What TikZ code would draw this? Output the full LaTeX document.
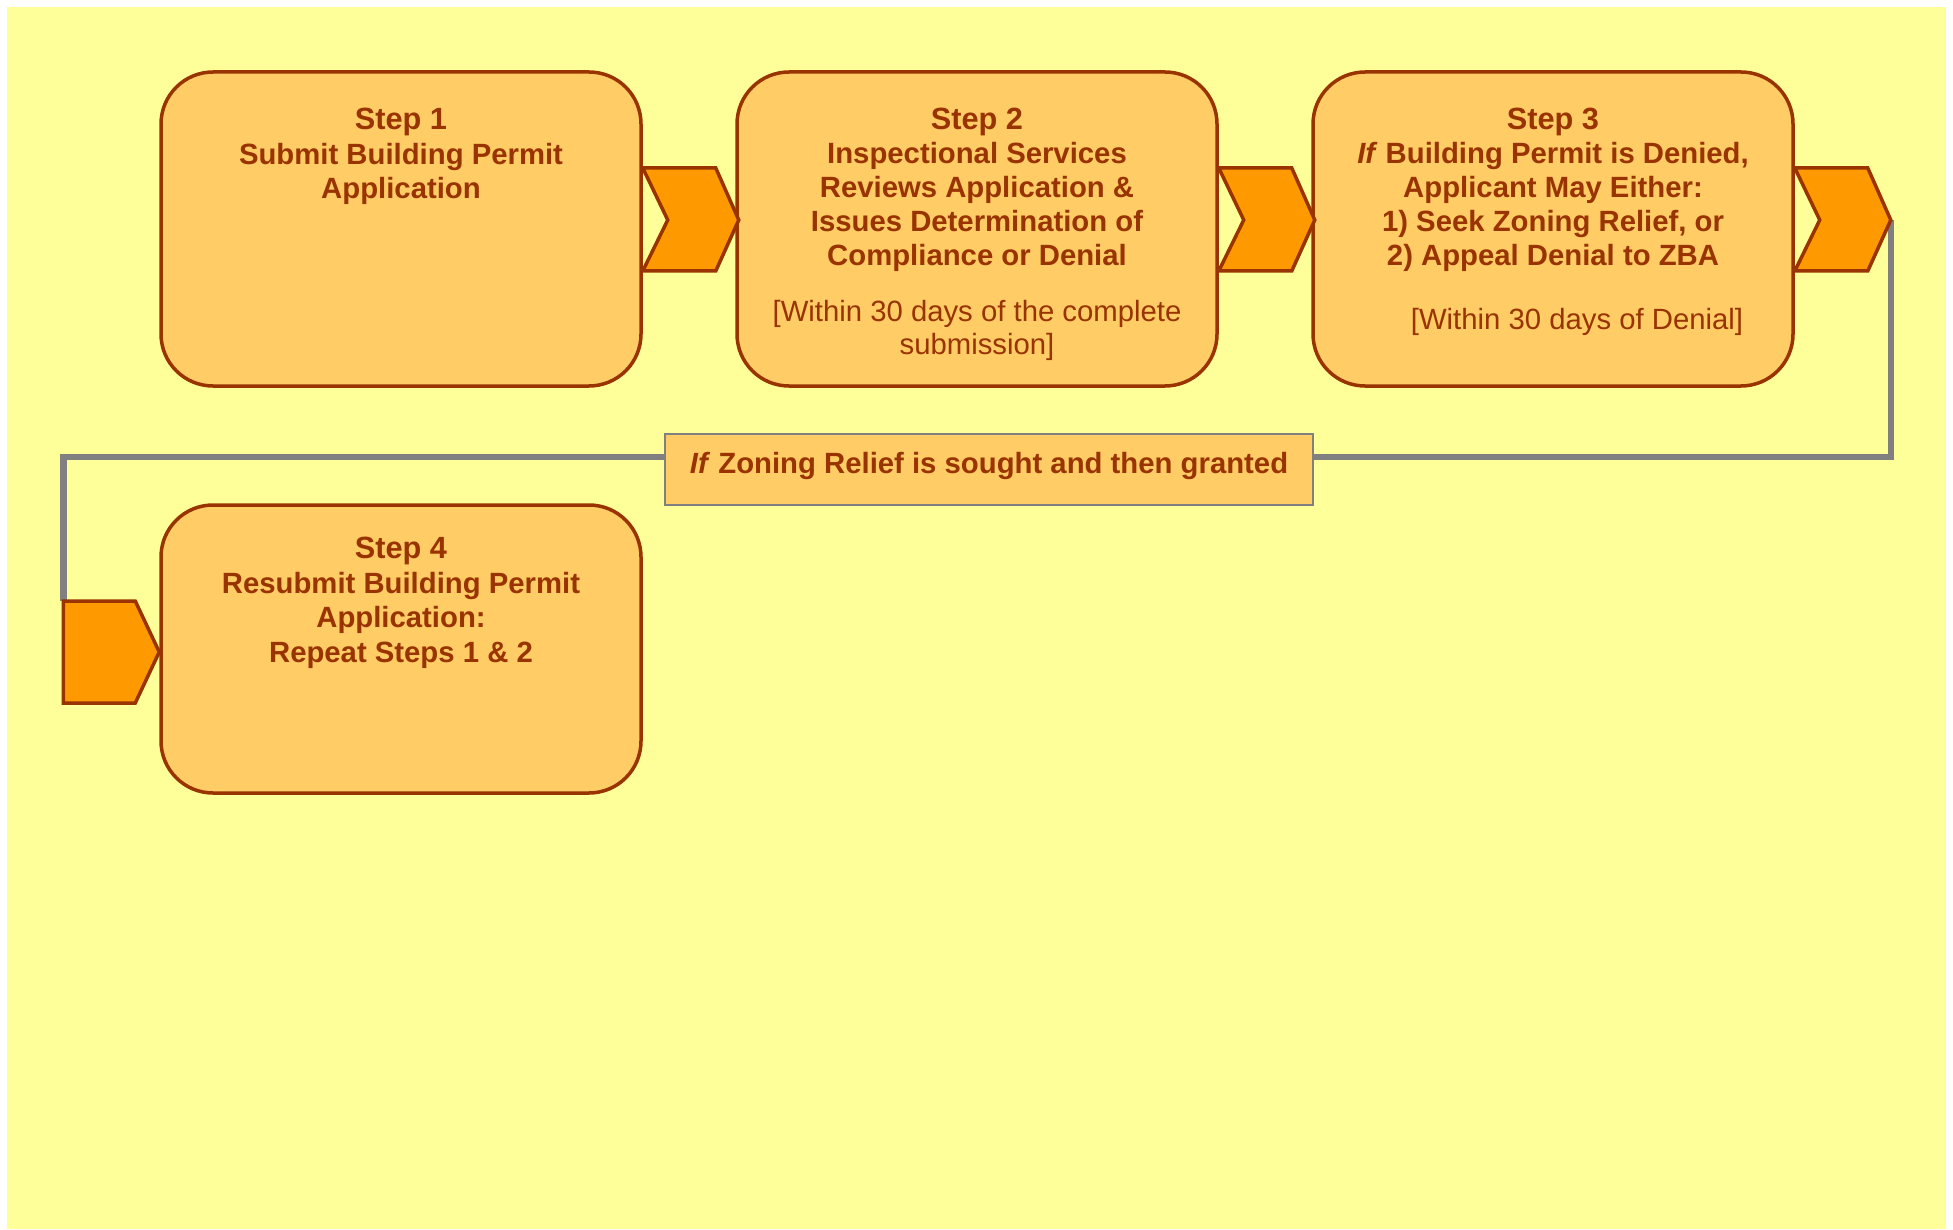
\documentclass[tikz,border=0pt]{standalone}
\usepackage{fontspec}
\setmainfont{Liberation Sans}
\usetikzlibrary{calc}
\definecolor{bgyellow}{HTML}{FFFF99}
\definecolor{boxfill}{HTML}{FFCC66}
\definecolor{rust}{HTML}{993300}
\definecolor{chevfill}{HTML}{FF9900}
\definecolor{linegray}{HTML}{808080}
\tikzset{
 stepbox/.style={draw=rust, fill=boxfill, line width=3.5pt, rounded corners=52pt, minimum width=480pt, inner sep=0pt},
 chevst/.style={draw=rust, fill=chevfill, line width=3.5pt, line join=miter},
 boldtxt/.style={text=rust, font=\fontsize{29.3}{34.9}\selectfont\bfseries, align=center, inner sep=0pt, anchor=north},
 boldtxttight/.style={text=rust, font=\fontsize{29.3}{34.0}\selectfont\bfseries, align=center, inner sep=0pt, anchor=north},
 regtxt/.style={text=rust, font=\fontsize{29.3}{33.5}\selectfont, align=center, inner sep=0pt, anchor=north},
 connector/.style={draw=linegray, line width=6.5pt, line join=miter},
 labelbox/.style={draw=linegray, fill=boxfill, line width=2pt, minimum width=648pt, minimum height=71pt, inner sep=0pt, text=rust, font=\fontsize{29.3}{34}\selectfont\bfseries, text height=21pt, text depth=13pt}
}
\newcommand\steplabel[1]{{\fontsize{30.7}{34}\selectfont Step #1}}
\newcommand\stepchevron[2]{%
 \draw[chevst] ($(#1.east)+(0,-61)$) -- ++(73,0) -- ++(23,52) coordinate (#2) -- ++(-23,51) -- ++(-73,0) -- ++(25,-51) -- cycle;}
\begin{document}
\begin{tikzpicture}[x=1pt,y=-1pt]
\useasboundingbox (0,0) rectangle (1953,1230);
\fill[bgyellow] (7,7) rectangle (1946,1229);
% boxes
\node[stepbox, minimum height=314pt] (b1) at (401,229) {};
\node[stepbox, minimum height=314pt] (b2) at (977,229) {};
\node[stepbox, minimum height=314pt] (b3) at (1553,229) {};
\node[stepbox, minimum height=288pt] (b4) at (401,649) {};
% connector
\coordinate (c3tip) at ($(b3.east)+(96,-9)$);
\coordinate (c4top) at ($(b4.west)+(-96,-48)$);
\coordinate (bendL) at (c4top |- 0,457);
\draw[connector] (c3tip) |- (bendL) -- (c4top);
% chevrons
\stepchevron{b1}{c1tip}
\stepchevron{b2}{c2tip}
\stepchevron{b3}{c3tipb}
\draw[chevst] (c4top) -- ++(72,0) -- ++(24,51) -- ++(-24,51) -- ++(-72,0) -- cycle;
% label
\node[labelbox] (lab) at (989,469) {\textit{If} Zoning Relief is sought and then granted};
% texts
\node[boldtxt] (t1) at (401,107.5) {\steplabel{1}\\Submit Building Permit\\Application};
\node[boldtxttight] (t2) at (977,108) {\steplabel{2}\\Inspectional Services\\Reviews Application \&\\Issues Determination of\\Compliance or Denial};
\node[regtxt] (t2b) at (977,300) {[Within 30 days of the complete\\submission]};
\node[boldtxttight] (t3) at (1553,108) {\steplabel{3}\\\textit{If} Building Permit is Denied,\\Applicant May Either:\\1) Seek Zoning Relief, or\\2) Appeal Denial to ZBA};
\node[regtxt] (t3b) at (1577,308.5) {[Within 30 days of Denial]};
\node[boldtxt] (t4) at (401,536.5) {\steplabel{4}\\Resubmit Building Permit\\Application:\\Repeat Steps 1 \& 2};
\end{tikzpicture}
\end{document}
